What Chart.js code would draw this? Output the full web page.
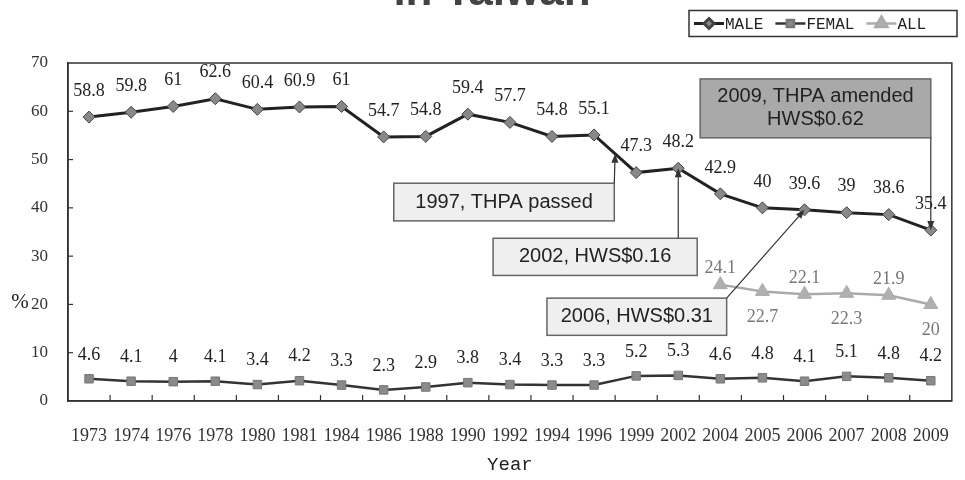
<!DOCTYPE html>
<html>
<head>
<meta charset="utf-8">
<script src="https://cdn.jsdelivr.net/npm/chart.js@4/dist/chart.umd.min.js"></script>
<style>
  body { margin: 0; background: #fff; }
  canvas { display: block; }
</style>
</head>
<body>
<canvas id="chart" width="965" height="480"></canvas>
<script>
const years = ["1973", "1974", "1976", "1978", "1980", "1981", "1984", "1986", "1988", "1990", "1992",
  "1994", "1996", "1999", "2002", "2004", "2005", "2006", "2007", "2008", "2009"];
const male = [58.8, 59.8, 61, 62.6, 60.4, 60.9, 61, 54.7, 54.8, 59.4, 57.7,
  54.8, 55.1, 47.3, 48.2, 42.9, 40, 39.6, 39, 38.6, 35.4];
const female = [4.6, 4.1, 4, 4.1, 3.4, 4.2, 3.3, 2.3, 2.9, 3.8, 3.4,
  3.3, 3.3, 5.2, 5.3, 4.6, 4.8, 4.1, 5.1, 4.8, 4.2];
const all = [null, null, null, null, null, null, null, null, null, null, null,
  null, null, null, null, 24.1, 22.7, 22.1, 22.3, 21.9, 20];
const allLabelBelow = [false, false, false, false, false, false, false, false, false, false, false,
  false, false, false, false, false, true, false, true, false, true];

// annotation boxes, placed in axis units (category index, % value)
const notes = [
  { lines: ["1997, THPA passed"], x0: 7.24, x1: 12.48, y0: 45.1, y1: 37.3, fill: "#efefef",
    from: [12.48, 45.1], to: [12.5, (male[12] + male[13]) / 2] },
  { lines: ["2002, HWS$0.16"], x0: 9.6, x1: 14.45, y0: 33.7, y1: 26.0, fill: "#efefef",
    from: [14, 33.7], to: [14, male[14]] },
  { lines: ["2006, HWS$0.31"], x0: 10.88, x1: 15.15, y0: 21.3, y1: 13.6, fill: "#efefef",
    from: [15.15, 21.3], to: [17, male[17]] },
  { lines: ["2009, THPA amended", "HWS$0.62"], x0: 14.52, x1: 20, y0: 66.7, y1: 54.5, fill: "#a9a9a9",
    from: [20, 54.5], to: [20, male[20]] },
];

const serif = "'Liberation Serif', 'DejaVu Serif', serif";
const mono = "'Liberation Mono', 'DejaVu Sans Mono', monospace";

function arrow(ctx, x1, y1, x2, y2) {
  const a = Math.atan2(y2 - y1, x2 - x1);
  ctx.beginPath();
  ctx.moveTo(x1, y1);
  ctx.lineTo(x2 - 7 * Math.cos(a), y2 - 7 * Math.sin(a));
  ctx.stroke();
  ctx.beginPath();
  ctx.moveTo(x2, y2);
  ctx.lineTo(x2 - 9 * Math.cos(a) + 3.5 * Math.sin(a), y2 - 9 * Math.sin(a) - 3.5 * Math.cos(a));
  ctx.lineTo(x2 - 9 * Math.cos(a) - 3.5 * Math.sin(a), y2 - 9 * Math.sin(a) + 3.5 * Math.cos(a));
  ctx.closePath();
  ctx.fill();
}

const extras = {
  id: "extras",
  afterDraw(chart) {
    const { ctx, chartArea: a, scales } = chart;
    const xs = scales.x, ys = scales.y;
    const step = xs.getPixelForValue(1) - xs.getPixelForValue(0);
    const px = (i) => xs.getPixelForValue(0) + step * i;
    const py = (v) => ys.getPixelForValue(v);
    ctx.save();

    // frame and inward ticks
    ctx.strokeStyle = "#333";
    ctx.lineWidth = 1.5;
    ctx.strokeRect(a.left, a.top, a.right - a.left, a.bottom - a.top);
    ctx.lineWidth = 1.2;
    for (let i = 1; i < years.length; i++) {
      const x = px(i - 0.5);
      ctx.beginPath(); ctx.moveTo(x, a.bottom); ctx.lineTo(x, a.bottom - 6); ctx.stroke();
    }
    for (let v = 10; v <= 60; v += 10) {
      ctx.beginPath(); ctx.moveTo(a.left, py(v)); ctx.lineTo(a.left + 5, py(v)); ctx.stroke();
    }

    // title, cut off at the top
    ctx.fillStyle = "#444";
    ctx.font = "bold 44px 'Liberation Sans', Arial, sans-serif";
    ctx.textAlign = "center";
    ctx.textBaseline = "alphabetic";
    ctx.fillText("in Taiwan", 492, 5);

    // % label
    ctx.fillStyle = "#222";
    ctx.font = "21px " + serif;
    ctx.textBaseline = "middle";
    ctx.fillText("%", 20, 302);

    // data labels
    chart.data.datasets.forEach((ds, di) => {
      const meta = chart.getDatasetMeta(di);
      ctx.font = "18px " + serif;
      ctx.fillStyle = di === 2 ? "#777" : "#222";
      meta.data.forEach((pt, i) => {
        const v = ds.data[i];
        if (v === null) return;
        const dy = di === 0 ? -26 : di === 1 ? -24 : (allLabelBelow[i] ? 26 : -16);
        ctx.fillText(String(v), pt.x, pt.y + dy);
      });
    });

    // annotations
    ctx.font = "20px 'Liberation Sans', Arial, sans-serif";
    notes.forEach((n) => {
      const l = px(n.x0), r = px(n.x1), t = py(n.y0), b = py(n.y1);
      ctx.fillStyle = n.fill;
      ctx.fillRect(l, t, r - l, b - t);
      ctx.strokeStyle = "#666";
      ctx.lineWidth = 1.5;
      ctx.strokeRect(l, t, r - l, b - t);
      ctx.fillStyle = "#222";
      const cy = (t + b) / 2, lh = 23;
      n.lines.forEach((s, k) => {
        ctx.fillText(s, (l + r) / 2, cy + (k - (n.lines.length - 1) / 2) * lh);
      });
      ctx.strokeStyle = "#333";
      ctx.fillStyle = "#333";
      ctx.lineWidth = 1.2;
      arrow(ctx, px(n.from[0]), py(n.from[1]), px(n.to[0]), py(n.to[1]));
    });

    // legend
    ctx.strokeStyle = "#333";
    ctx.lineWidth = 1.5;
    ctx.strokeRect(689, 10.5, 268, 26);
    let lx = 694;
    const ly = 23.5;
    chart.data.datasets.forEach((ds) => {
      ctx.strokeStyle = ds.borderColor;
      ctx.lineWidth = ds.borderWidth;
      ctx.beginPath(); ctx.moveTo(lx, ly); ctx.lineTo(lx + 30, ly); ctx.stroke();
      ctx.fillStyle = ds.pointBackgroundColor;
      ctx.strokeStyle = ds.pointBorderColor;
      Chart.helpers.drawPoint(ctx, { pointStyle: ds.pointStyle, radius: ds.pointRadius - 1, borderWidth: 1 }, lx + 15, ly);
      ctx.fillStyle = "#222";
      ctx.font = "16px " + mono;
      ctx.textAlign = "left";
      ctx.fillText(ds.label, lx + 31, ly + 1);
      lx += 31 + ctx.measureText(ds.label).width + 12;
    });
    ctx.restore();
  }
};

new Chart(document.getElementById("chart"), {
  type: "line",
  data: {
    labels: years,
    datasets: [
      { label: "MALE", data: male, borderColor: "#222", borderWidth: 3,
        pointStyle: "rectRot", pointRadius: 6, pointBackgroundColor: "#888",
        pointBorderColor: "#444", pointBorderWidth: 1, tension: 0 },
      { label: "FEMAL", data: female, borderColor: "#333", borderWidth: 2.5,
        pointStyle: "rect", pointRadius: 6, pointBackgroundColor: "#8a8a8a",
        pointBorderColor: "#777", pointBorderWidth: 1, tension: 0 },
      { label: "ALL", data: all, borderColor: "#aaa", borderWidth: 2.5,
        pointStyle: "triangle", pointRadius: 8, pointBackgroundColor: "#b0b0b0",
        pointBorderColor: "#aaa", pointBorderWidth: 1, tension: 0, spanGaps: false },
    ],
  },
  options: {
    responsive: false,
    animation: false,
    layout: { padding: { top: 63, right: 2, left: 0, bottom: 0 } },
    plugins: {
      legend: { display: false },
      tooltip: { enabled: false },
    },
    scales: {
      x: {
        offset: true,
        grid: { display: false },
        border: { display: true, color: "#333", width: 1.5 },
        ticks: { font: { family: serif, size: 18 }, color: "#333", maxRotation: 0, autoSkip: false, padding: 16 },
        title: { display: true, text: "Year", color: "#222", font: { family: mono, size: 19 }, padding: { top: 8 } },
        afterFit(scale) { scale.height = 79; },
      },
      y: {
        min: 0,
        max: 70,
        grid: { display: false },
        border: { display: true, color: "#333", width: 1.5 },
        ticks: { stepSize: 10, font: { family: serif, size: 17 }, color: "#333", padding: 12 },
        afterFit(scale) { scale.width = 68; },
      },
    },
  },
  plugins: [extras],
});
</script>
</body>
</html>
